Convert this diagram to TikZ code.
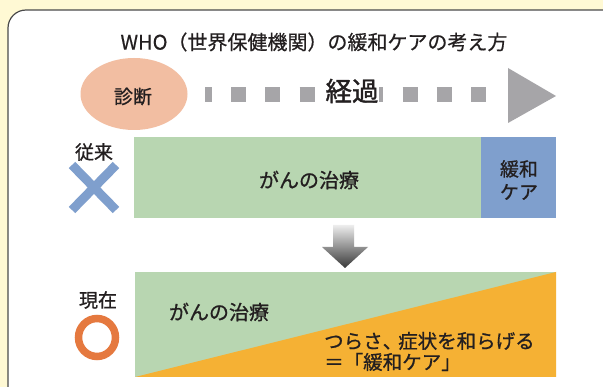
\documentclass[tikz,border=0pt]{standalone}
\usepackage{fontspec}
\newfontfamily\jp{Noto Sans CJK JP}[FakeBold=0.9]
\newfontfamily\jpt{Noto Sans CJK JP}[FakeBold=0.5]
\newfontfamily\jpb{Noto Sans CJK JP}[FakeBold=1.4]
\usetikzlibrary{shapes.geometric}
\definecolor{bgc}{HTML}{FFF9D4}
\definecolor{bordc}{HTML}{4A4A4A}
\definecolor{pinkc}{HTML}{F2BEA2}
\definecolor{grayc}{HTML}{A6A5A8}
\definecolor{greenc}{HTML}{B8D6B1}
\definecolor{bluec}{HTML}{7F9FCD}
\definecolor{orangec}{HTML}{F5B134}
\definecolor{ringc}{HTML}{E5793F}
\definecolor{txt}{HTML}{231F20}
\begin{document}
\begin{tikzpicture}[x=1pt,y=-1pt,
  lbl/.style={font=\jp\fontsize{19}{23}\selectfont, text=txt, inner sep=0pt},
]
\useasboundingbox (0,0) rectangle (603,387);
\fill[bgc] (0,0) rectangle (603,387);
\begin{scope}
\clip (0,0) rectangle (603,387);
\draw[bordc, fill=white, line width=1.2pt, rounded corners=18pt] (8,10) rectangle (625,410);
\end{scope}
% title
\node[lbl, font=\jpt\fontsize{20}{23}\selectfont] (title) at (314,42) {WHO（世界保健機関）の緩和ケアの考え方};
% timeline
\node[ellipse, fill=pinkc, minimum width=107pt, minimum height=72pt, inner sep=0pt] (diag) at (134,94) {};
\node[lbl] (diagt) at (133,96.5) {診断};
\coordinate (ds) at (205,95);
\coordinate (de) at (487,95);
\draw[grayc, line width=15pt, dash pattern=on 15pt off 19.3pt, dash phase=8.3pt] (ds) -- (de);
\node[lbl, font=\jpb\fontsize{26.5}{30}\selectfont, fill=white, inner xsep=0pt, inner ysep=2pt] (pass) at (352,91) {経過};
\fill[grayc] (508,68) -- (556,96) -- (508,123) -- cycle;
% traditional
\node[lbl] (trad) at (94,152) {従来};
\draw[bluec, line width=9pt] (72,165) -- (116,210);
\draw[bluec, line width=9pt] (72,210) -- (116,165);
\fill[greenc] (134,137) rectangle (481,218);
\fill[bluec] (481,137) rectangle (556,218);
\node[lbl, font=\jp\fontsize{20}{23}\selectfont] (treat1) at (309,180) {がんの治療};
\node[lbl, align=center] (pc1) at (519,180) {緩和\\ケア};
% down arrow
\shade[top color=black!7, bottom color=black!78] (333,225) -- (354,225) -- (354,247) -- (368,247) -- (345,268) -- (322,247) -- (333,247) -- cycle;
% present
\fill[greenc] (135,272) rectangle (556,377);
\fill[orangec] (135,377) -- (556,272) -- (556,377) -- cycle;
\node[lbl, font=\jp\fontsize{20}{23}\selectfont] (treat2) at (219,312) {がんの治療};
\node[lbl, align=left, anchor=west, font=\jp\fontsize{19.5}{21}\selectfont] (pc2) at (324,351.5) {つらさ、\kern-4pt 症状を和らげる\\＝「緩和ケア」};
\node[lbl] (now) at (98,300) {現在};
\draw[ringc, line width=7.5pt] (97,337.5) ellipse [x radius=18.5pt, y radius=19pt];
\end{tikzpicture}
\end{document}
